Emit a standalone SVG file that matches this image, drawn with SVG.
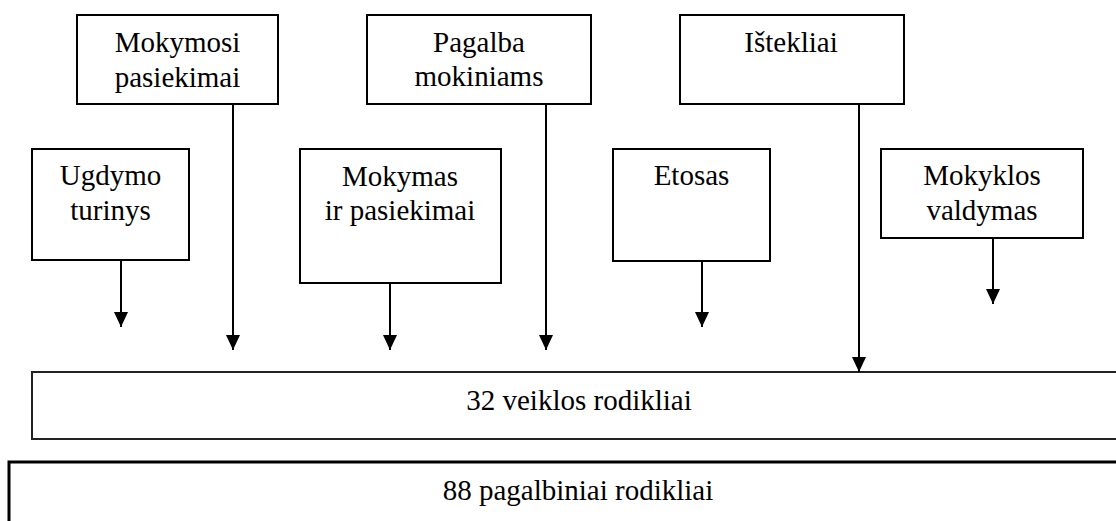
<svg xmlns="http://www.w3.org/2000/svg" width="1116" height="521" viewBox="0 0 1116 521">
<defs>
<style>
.box{fill:#fff;stroke:#000;stroke-width:2}
.wide{fill:#fff;stroke:#222;stroke-width:2}
.t{font-family:'Liberation Serif','Times New Roman',serif;font-size:29px;fill:#000;text-anchor:middle}
.c{stroke:#000;stroke-width:2;fill:none;marker-end:url(#ah)}
</style>
<marker id="ah" markerUnits="userSpaceOnUse" markerWidth="15" markerHeight="15" refX="15" refY="7" orient="auto">
<path d="M0,0 L15,7 L0,14 z" fill="#000"/>
</marker>
</defs>
<rect width="1116" height="521" fill="#fff"/>
<g id="n-mokymosi"><rect class="box" x="77" y="15" width="201" height="89"/><text class="t" x="177.5" y="52">Mokymosi</text><text class="t" x="177.5" y="87">pasiekimai</text></g>
<g id="n-pagalba"><rect class="box" x="367" y="15" width="224" height="89"/><text class="t" x="479" y="52">Pagalba</text><text class="t" x="479" y="86">mokiniams</text></g>
<g id="n-istekliai"><rect class="box" x="680" y="15" width="224" height="89"/><text class="t" x="791" y="52">Ištekliai</text></g>
<g id="n-ugdymo"><rect class="box" x="32" y="149" width="157" height="111"/><text class="t" x="110.5" y="185">Ugdymo</text><text class="t" x="110.5" y="220">turinys</text></g>
<g id="n-mokymas"><rect class="box" x="300" y="149" width="201" height="134"/><text class="t" x="400" y="186">Mokymas</text><text class="t" x="400" y="220">ir pasiekimai</text></g>
<g id="n-etosas"><rect class="box" x="613" y="149" width="157" height="112"/><text class="t" x="691.5" y="185">Etosas</text></g>
<g id="n-mokyklos"><rect class="box" x="881" y="149" width="202" height="89"/><text class="t" x="982" y="185">Mokyklos</text><text class="t" x="982" y="220">valdymas</text></g>
<g id="n-32"><rect class="wide" x="32" y="372" width="1094" height="67"/><text class="t" x="579" y="410">32 veiklos rodikliai</text></g>
<g id="n-88"><rect x="9" y="462" width="1138" height="80" fill="#fff" stroke="#000" stroke-width="3"/><text class="t" x="578" y="500">88 pagalbiniai rodikliai</text></g>
<g id="connectors">
<line class="c" x1="121" y1="260" x2="121" y2="327"/>
<line class="c" x1="233" y1="104" x2="233" y2="350"/>
<line class="c" x1="390" y1="283" x2="390" y2="350"/>
<line class="c" x1="546" y1="104" x2="546" y2="350"/>
<line class="c" x1="702" y1="261" x2="702" y2="327"/>
<line class="c" x1="859" y1="104" x2="859" y2="372"/>
<line class="c" x1="993" y1="238" x2="993" y2="304"/>
</g>
</svg>
